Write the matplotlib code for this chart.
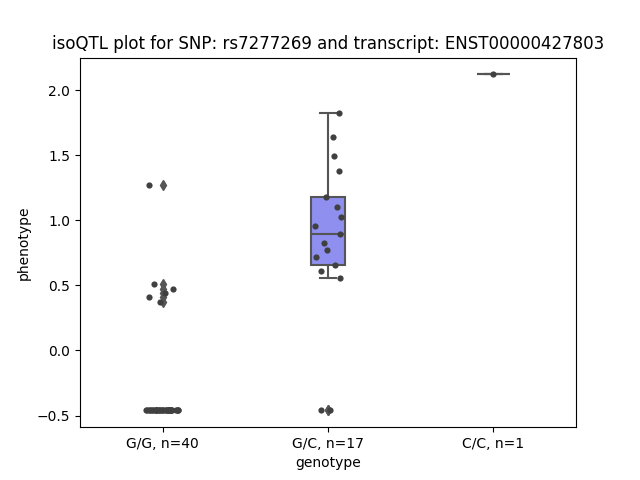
import numpy as np
import matplotlib
matplotlib.use("Agg")
import matplotlib.pyplot as plt

categories = ["G/G, n=40", "G/C, n=17", "C/C, n=1"]
gg_values = [1.27, 0.51, 0.47, 0.44, 0.41, 0.37] + [-0.46] * 34
gc_values = [1.825, 1.636, 1.49, 1.375, 1.18, 1.10, 1.026, 0.956, 0.892,
             0.828, 0.77, 0.715, 0.66, 0.61, 0.559, -0.46, -0.46]
cc_values = [2.12]
groups = [gg_values, gc_values, cc_values]

box_colors = ["#ef8f8f", "#8f8fef", "#8fef8f"]
line_color = "#555555"
point_color = "#404040"

fig, ax = plt.subplots(figsize=(6.4, 4.8), dpi=100)
positions = np.arange(len(groups))
bp = ax.boxplot(groups, positions=positions, widths=0.2, patch_artist=True,
                medianprops=dict(color=line_color, linewidth=1.5),
                boxprops=dict(color=line_color, linewidth=1.5),
                whiskerprops=dict(color=line_color, linewidth=1.5),
                capprops=dict(color=line_color, linewidth=1.5),
                flierprops=dict(marker="d", markerfacecolor=line_color,
                                markeredgecolor=line_color, markersize=5))
for patch, c in zip(bp["boxes"], box_colors):
    patch.set_facecolor(c)
    patch.set_edgecolor(line_color)

rng = np.random.default_rng(3)
for i, vals in enumerate(groups):
    jit = rng.uniform(-0.1, 0.1, len(vals)) if len(vals) > 1 else np.zeros(1)
    ax.scatter(i + jit, vals, s=20, color=point_color, zorder=3, linewidths=0)

ax.set_xticks(positions)
ax.set_xticklabels(categories)
ax.set_xlim(-0.5, 2.5)
ax.set_xlabel("genotype")
ax.set_ylabel("phenotype")
ax.set_title("isoQTL plot for SNP: rs7277269 and transcript: ENST00000427803")
fig.savefig("out.png", dpi=100)
